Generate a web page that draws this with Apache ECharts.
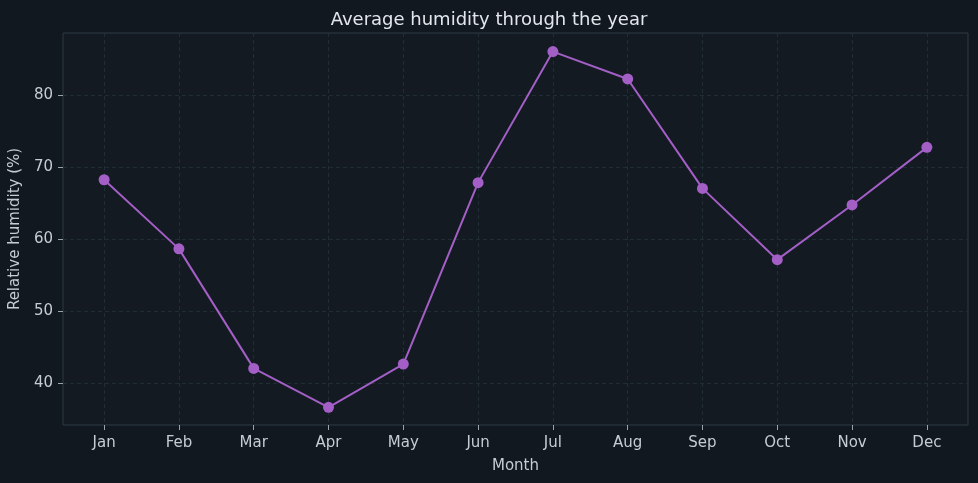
<!DOCTYPE html>
<html>
<head>
<meta charset="utf-8">
<script src="https://cdn.jsdelivr.net/npm/echarts@6/dist/echarts.min.js"></script>
<style>
html, body { margin: 0; padding: 0; background: #111820; }
#chart { width: 978px; height: 483px; }
</style>
</head>
<body>
<div id="chart"></div>
<script>
var months = ['Jan', 'Feb', 'Mar', 'Apr', 'May', 'Jun', 'Jul', 'Aug', 'Sep', 'Oct', 'Nov', 'Dec']
var humidity = [68.3, 58.7, 42.1, 36.7, 42.7, 67.9, 86.1, 82.3, 67.1, 57.2, 64.8, 72.8]
var yTicks = [40, 50, 60, 70, 80]

var points = []
for(var i = 0; i < months.length; i ++) {
	points.push([i, humidity[i]])
}
var xTicks = []
for(var i = 0; i < months.length; i ++) xTicks.push(i)

var font = 'DejaVu Sans'
var labelColor = '#c5ccd4'
var gridLine = { show: true, lineStyle: { color: '#202d35', type: [4, 3], width: 1 } }

var chart = echarts.init(document.getElementById('chart'))
chart.setOption({
	backgroundColor: '#111820',
	animation: false,
	title: {
		text: 'Average humidity through the year',
		left: 'center',
		top: 6,
		textStyle: { color: '#e2e7ec', fontFamily: font, fontSize: 18, fontWeight: 'normal' }
	},
	grid: {
		left: 62, right: 10, top: 33, bottom: 58,
		show: true,
		backgroundColor: '#131a22',
		borderColor: '#2d3a43',
		borderWidth: 1
	},
	xAxis: {
		type: 'value',
		min: -0.55,
		max: 11.55,
		name: 'Month',
		nameLocation: 'middle',
		nameGap: 34,
		nameTextStyle: { color: labelColor, fontFamily: font, fontSize: 15 },
		axisLine: { show: false, onZero: false },
		axisTick: { show: true, length: 5, customValues: xTicks, lineStyle: { color: '#9aa4ad' } },
		axisLabel: {
			customValues: xTicks,
			color: labelColor, fontFamily: font, fontSize: 15, margin: 11,
			formatter: function(v) { return months[Math.round(v)] }
		},
		splitLine: gridLine
	},
	yAxis: {
		type: 'value',
		min: 34.24,
		max: 88.68,
		name: 'Relative humidity (%)',
		nameLocation: 'middle',
		nameGap: 35,
		nameTextStyle: { color: labelColor, fontFamily: font, fontSize: 15 },
		axisLine: { show: false, onZero: false },
		axisTick: { show: true, length: 5, customValues: yTicks, lineStyle: { color: '#9aa4ad' } },
		axisLabel: { customValues: yTicks, color: labelColor, fontFamily: font, fontSize: 15, margin: 10 },
		splitLine: gridLine
	},
	series: [{
		type: 'line',
		data: points,
		symbol: 'circle',
		symbolSize: 11,
		lineStyle: { color: '#a35fc6', width: 2 },
		itemStyle: { color: '#a35fc6' }
	}]
})
</script>
</body>
</html>
